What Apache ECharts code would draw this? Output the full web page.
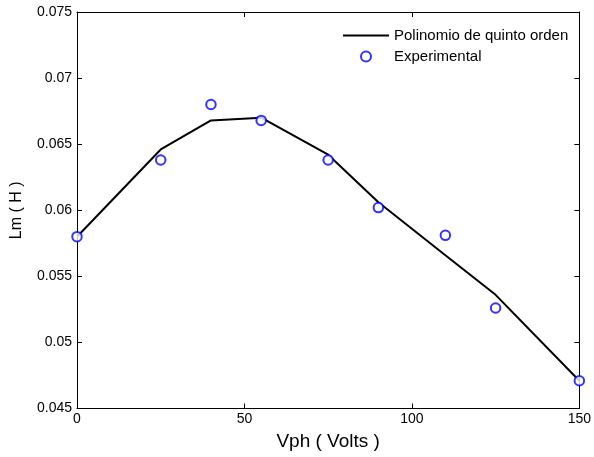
<!DOCTYPE html>
<html>
<head>
<meta charset="utf-8">
<script src="https://cdn.jsdelivr.net/npm/echarts@6/dist/echarts.min.js"></script>
<style>html,body{margin:0;padding:0;background:#fff}#c{width:594px;height:457px}</style>
</head>
<body>
<div id="c"></div>
<script>
var xValues = [0, 25, 40, 55, 75, 90, 110, 125, 150];
var polyValues = [0.0580, 0.0646, 0.0668, 0.0670, 0.0642, 0.0606, 0.0566, 0.0536, 0.0471];
var expValues = [0.0580, 0.0638, 0.0680, 0.0668, 0.0638, 0.0602, 0.0581, 0.0526, 0.0471];
var seriesNames = ['Polinomio de quinto orden', 'Experimental'];
var xName = 'Vph ( Volts )';
var yName = 'Lm ( H )';

function pairs(xs, ys) { return xs.map(function (x, i) { return [x, ys[i]]; }); }

var font = 'Liberation Sans, Arial, Helvetica, sans-serif';
var chart = echarts.init(document.getElementById('c'), null, { renderer: 'canvas' });
var axisCommon = {
  axisLine: { show: true, onZero: false, lineStyle: { color: '#000', width: 1 } },
  axisTick: { show: true, inside: true, length: 5, lineStyle: { color: '#000' } },
  splitLine: { show: false }
};
chart.setOption({
  animation: false,
  backgroundColor: '#fff',
  grid: { left: 77, right: 12, top: 12, bottom: 48.5, containLabel: false },
  legend: {
    orient: 'vertical', left: 338, top: 23, itemWidth: 46, itemHeight: 10, itemGap: 6,
    textStyle: { fontFamily: font, fontSize: 15, color: '#000' },
    data: [
      { name: seriesNames[0], icon: 'path://M0,0 L46,0 L46,2 L0,2 Z', itemStyle: { color: '#000' } },
      { name: seriesNames[1] }
    ]
  },
  xAxis: [
    Object.assign({ type: 'value', min: 0, max: 150, interval: 50, position: 'bottom',
      name: xName, nameLocation: 'middle', nameGap: 24,
      nameTextStyle: { fontFamily: font, fontSize: 19, color: '#000' },
      axisLabel: { fontFamily: font, fontSize: 14, color: '#000', margin: 4 } }, axisCommon),
    Object.assign({ type: 'value', min: 0, max: 150, interval: 50, position: 'top',
      axisLabel: { show: false } }, axisCommon)
  ],
  yAxis: [
    Object.assign({ type: 'value', min: 0.045, max: 0.075, interval: 0.005, position: 'left',
      name: yName, nameLocation: 'middle', nameGap: 52,
      nameTextStyle: { fontFamily: font, fontSize: 16, color: '#000' },
      axisLabel: { fontFamily: font, fontSize: 14, color: '#000', margin: 5,
        formatter: function (v) { return String(Math.round(v * 1000) / 1000); } } }, axisCommon),
    Object.assign({ type: 'value', min: 0.045, max: 0.075, interval: 0.005, position: 'right',
      axisLabel: { show: false } }, axisCommon)
  ],
  series: [
    { name: seriesNames[0], type: 'line', data: pairs(xValues, polyValues), symbol: 'none',
      lineStyle: { color: '#000', width: 2 }, itemStyle: { color: '#000' }, z: 2 },
    { name: seriesNames[1], type: 'scatter', data: pairs(xValues, expValues), symbol: 'emptyCircle',
      symbolSize: 9.5, itemStyle: { color: '#0000ff', borderColor: '#0000ff', borderWidth: 2.4 }, z: 3 }
  ]
});
</script>
</body>
</html>
